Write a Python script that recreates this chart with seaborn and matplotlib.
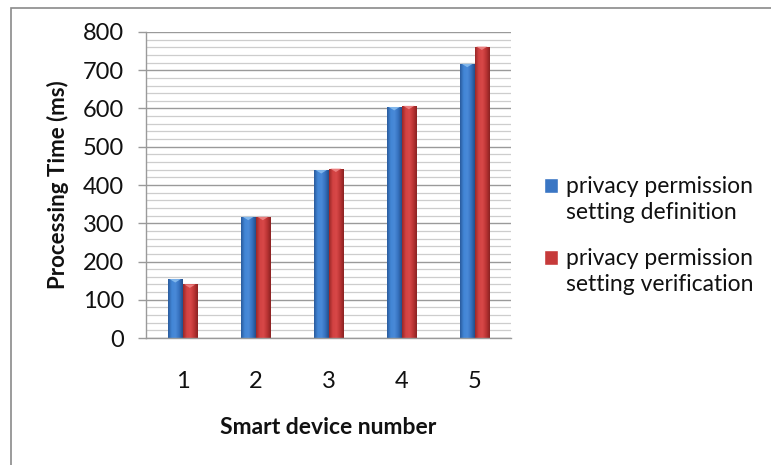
import numpy as np
import pandas as pd
import matplotlib
matplotlib.use("Agg")
import matplotlib.pyplot as plt
import seaborn as sns
from matplotlib.colors import LinearSegmentedColormap
from matplotlib.patches import Polygon, Rectangle
from matplotlib.legend_handler import HandlerPatch
from matplotlib.ticker import MultipleLocator

# Data
devices = ["1", "2", "3", "4", "5"]
definition_ms = [154, 317, 439, 604, 717]
verification_ms = [140, 317, 443, 607, 762]
series_names = ["privacy permission\nsetting definition",
                "privacy permission\nsetting verification"]

df = pd.DataFrame({
    "device": devices * 2,
    "time": definition_ms + verification_ms,
    "series": [series_names[0]] * len(devices) + [series_names[1]] * len(devices),
})

sns.set_theme(style="white")
plt.rcParams["font.family"] = ["Lato", "DejaVu Sans"]

fig = plt.figure(figsize=(7.71, 4.65), dpi=100)
ax = fig.add_axes([0.1894, 0.2731, 0.4734, 0.6581])

blue = "#3a76c4"
red = "#c63a3a"
sns.barplot(data=df, x="device", y="time", hue="series",
            palette=[blue, red], width=0.4, gap=0, ax=ax,
            saturation=1, legend=True)

ax.set_ylim(0, 800)
ax.set_xlim(-0.5, 4.5)
ax.yaxis.set_major_locator(MultipleLocator(100))
ax.yaxis.set_minor_locator(MultipleLocator(20))
ax.grid(which="major", axis="y", color="#9a9a9a", linewidth=1.0)
ax.grid(which="minor", axis="y", color="#cdcdcd", linewidth=0.9)
ax.set_axisbelow(True)

for s in ["top", "right"]:
    ax.spines[s].set_visible(False)
ax.spines["left"].set_color("#9a9a9a")
ax.spines["bottom"].set_color("#9a9a9a")
ax.spines["left"].set_linewidth(1.0)
ax.spines["bottom"].set_linewidth(1.0)

ax.tick_params(axis="y", which="major", left=True, length=6, width=1,
               color="#9a9a9a", pad=10, labelsize=17, labelcolor="#111111")
ax.tick_params(axis="y", which="minor", left=False)
ax.tick_params(axis="x", bottom=False, pad=18, labelsize=17, labelcolor="#111111")

ax.set_xlabel("Smart device number", fontsize=16.5, fontweight="bold",
              labelpad=18, color="#111111")
ax.set_ylabel("Processing Time (ms)", fontsize=16, fontweight="bold",
              labelpad=10, color="#111111")

# Cylinder-like shading on each bar
shade = {
    blue: LinearSegmentedColormap.from_list(
        "b", ["#2a5a9c", "#4286d6", "#4a8ad8", "#3672c0", "#234f8a"]),
    red: LinearSegmentedColormap.from_list(
        "r", ["#9a2828", "#d24242", "#d84848", "#bb3434", "#8a2222"]),
}
grad = np.linspace(0, 1, 64).reshape(1, -1)
cap_color = {blue: "#8cc0f0", red: "#f08a8a"}
for patch in list(ax.patches):
    h = patch.get_height()
    if h <= 0:
        continue
    fc = matplotlib.colors.to_hex(patch.get_facecolor())
    key = blue if fc.lower() == blue else red
    x0 = patch.get_x()
    w = patch.get_width()
    im = ax.imshow(grad, cmap=shade[key], aspect="auto",
                   extent=(x0, x0 + w, 0, h), zorder=patch.get_zorder() + 0.1,
                   interpolation="bilinear")
    im.set_clip_path(patch)
    patch.set_edgecolor("none")
    # small bevel on the top face
    dy = 9.0
    tri = Polygon([(x0 + w * 0.12, h), (x0 + w * 0.88, h), (x0 + w * 0.5, h - dy)],
                  closed=True, facecolor=cap_color[key], edgecolor="none",
                  alpha=0.85, zorder=patch.get_zorder() + 0.2)
    ax.add_patch(tri)

ax.set_ylim(0, 800)
ax.set_xlim(-0.5, 4.5)


# Legend swatches sit beside the first line of each two-line label
def raised_swatch(legend, orig_handle, xdescent, ydescent, width, height, fontsize):
    return Rectangle((-xdescent, -ydescent + 0.62 * fontsize), width, height)


handles, labels = ax.get_legend_handles_labels()
leg = ax.legend(handles, labels, loc="center left", bbox_to_anchor=(1.033, 0.335),
                frameon=False, fontsize=16.5, handlelength=0.62, handleheight=0.62,
                handletextpad=0.35, labelspacing=1.05, labelcolor="#111111",
                handler_map={matplotlib.patches.Rectangle: HandlerPatch(patch_func=raised_swatch)})
for t in leg.get_texts():
    t.set_linespacing(1.35)

# Outer chart frame
fig.add_artist(Rectangle((11 / 771, -0.05), 1.2, (465 - 8) / 465 + 0.05,
                         transform=fig.transFigure, fill=False,
                         edgecolor="#8a8a8a", linewidth=1.2))

fig.savefig("out.png", dpi=100)
